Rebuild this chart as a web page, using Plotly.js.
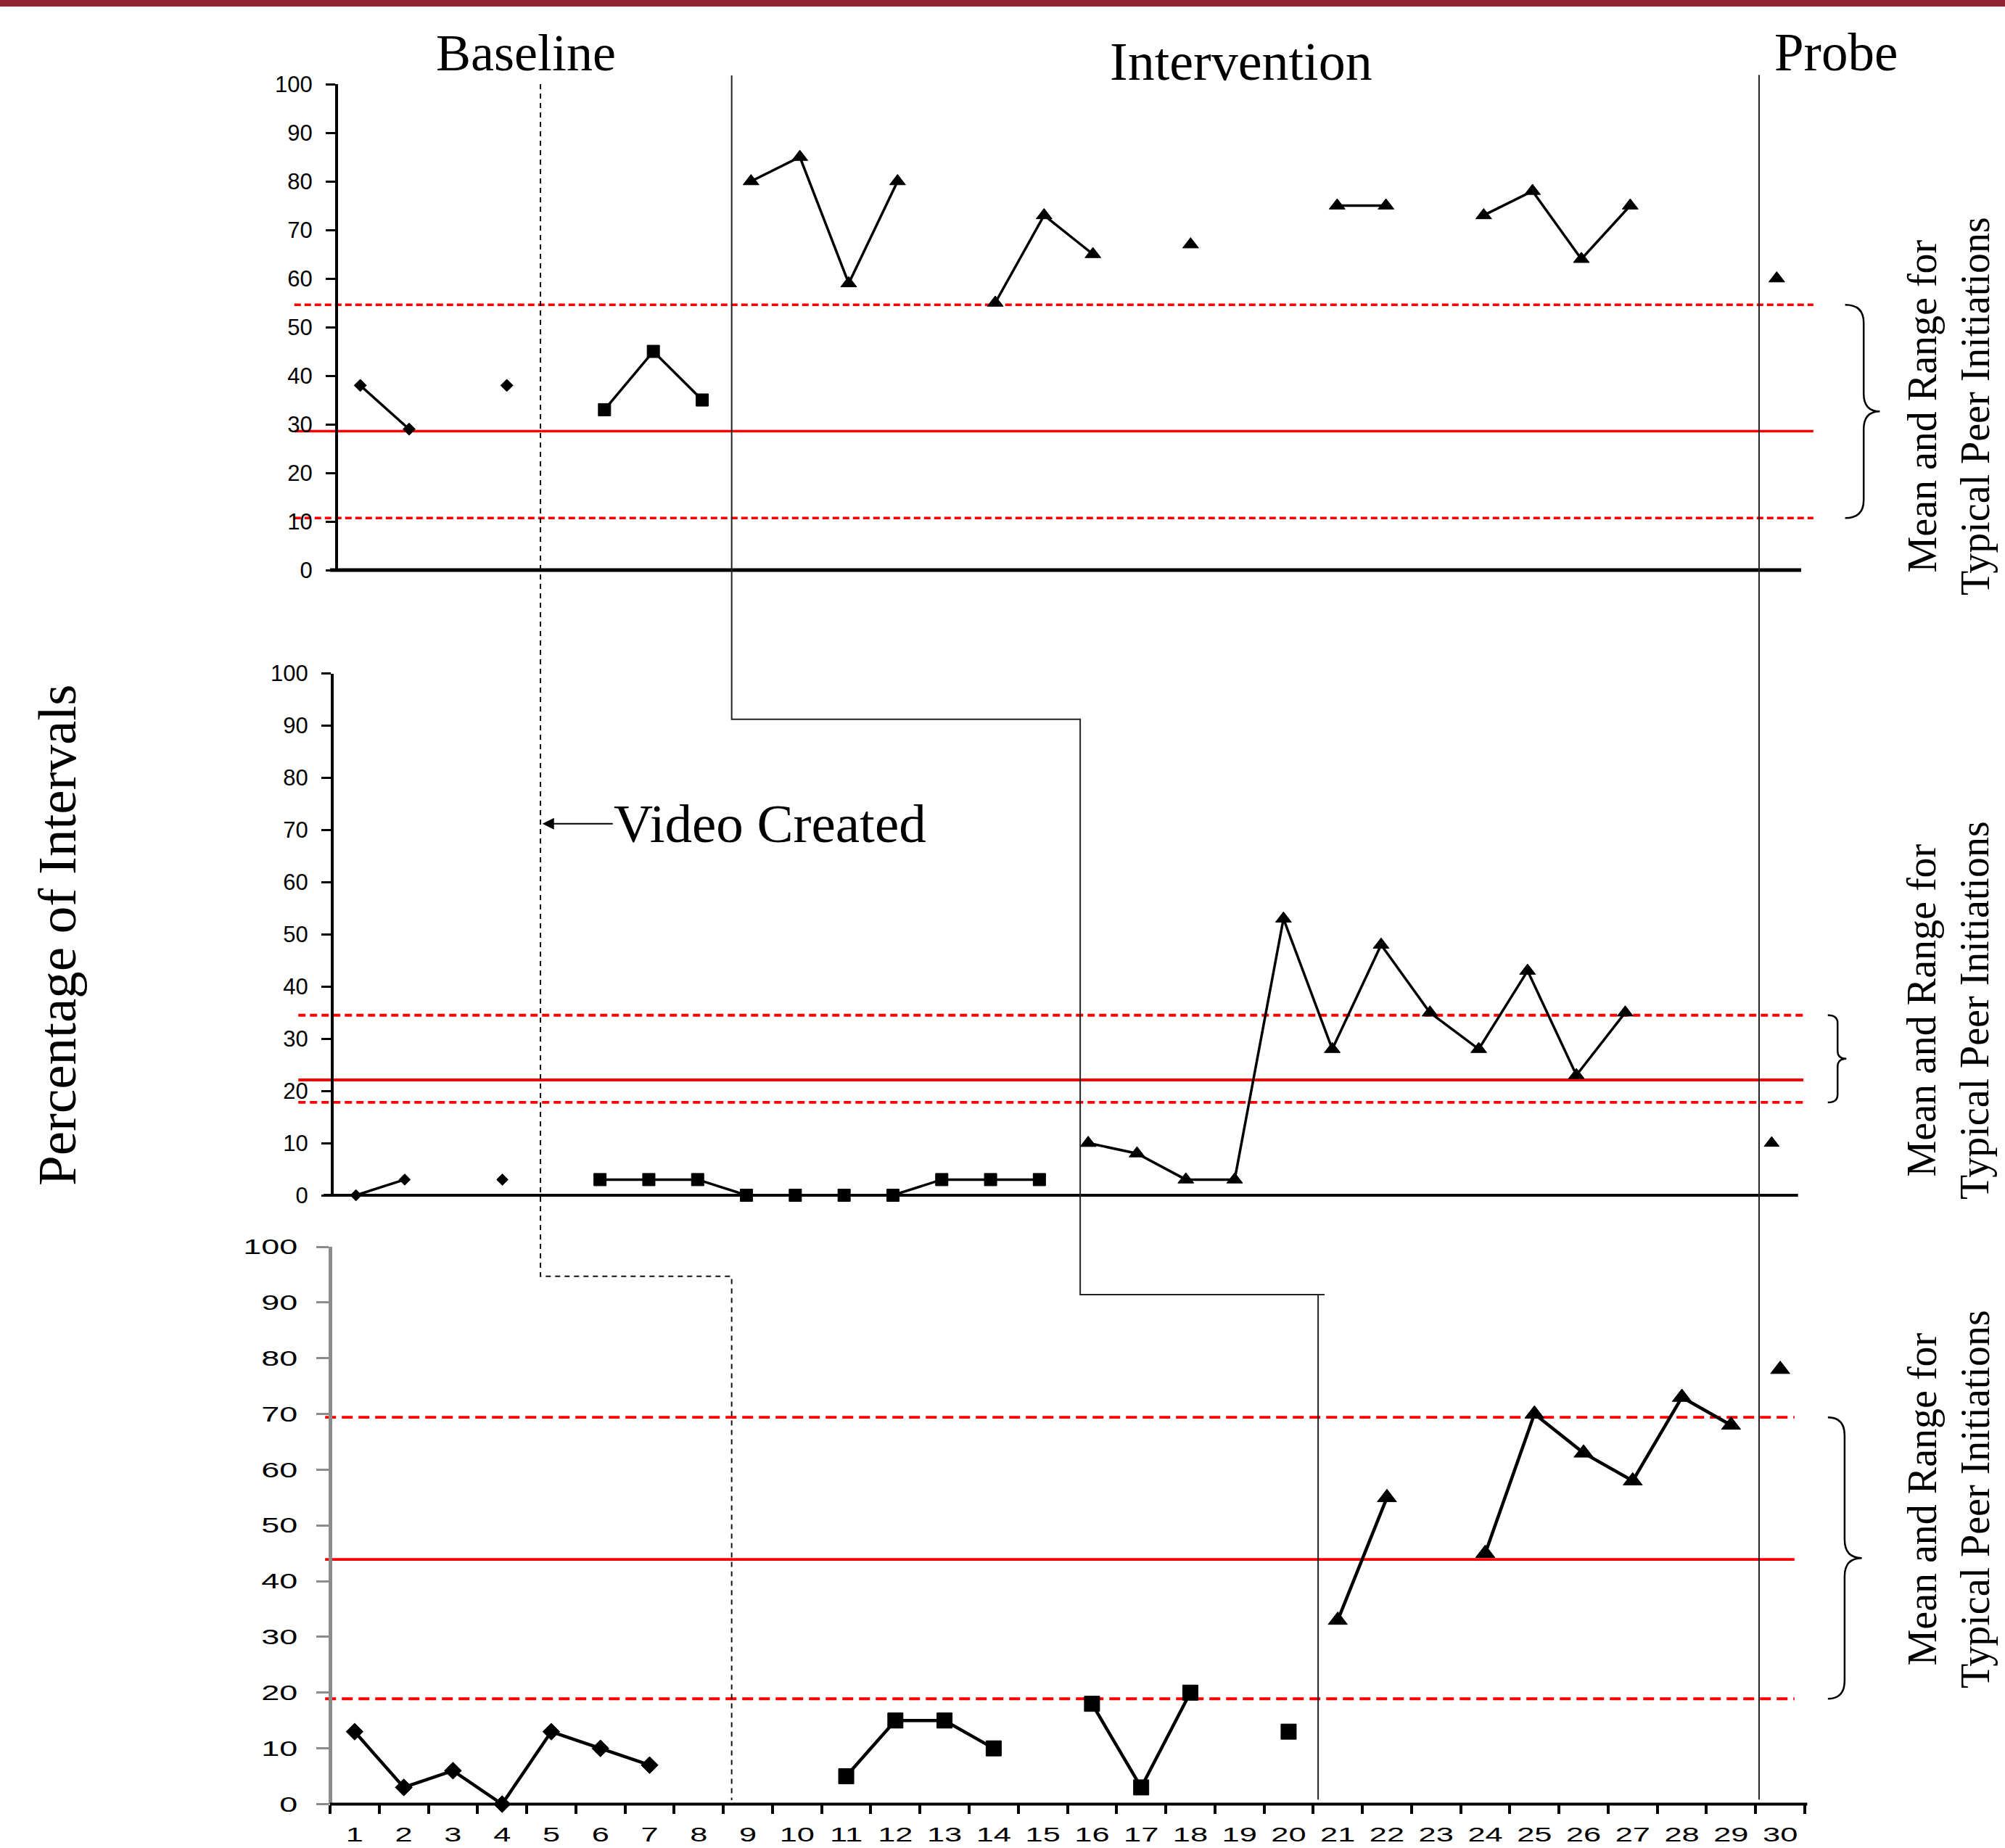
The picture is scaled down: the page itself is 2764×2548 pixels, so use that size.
<!DOCTYPE html>
<html>
<head>
<meta charset="utf-8">
<script src="https://cdn.plot.ly/plotly-3.0.1.min.js"></script>
<style>
html,body{margin:0;padding:0;background:#fff;}
#chart{width:2764px;height:2548px;}
</style>
</head>
<body>
<div id="chart"></div>
<script>
// ---------------- DATA ----------------
const sessions = [1,2,3,4,5,6,7,8,9,10,11,12,13,14,15,16,17,18,19,20,21,22,23,24,25,26,27,28,29,30];
const tickLabels = sessions.map(String);
const yTicks = [0,10,20,30,40,50,60,70,80,90,100];
const N = null;

// Panel 1 (top)
const p1Diamond  = [38,29,N,38,N,N,N,N,N,N, N,N,N,N,N,N,N,N,N,N, N,N,N,N,N,N,N,N,N,N];
const p1Square   = [N,N,N,N,N,33,45,35,N,N, N,N,N,N,N,N,N,N,N,N, N,N,N,N,N,N,N,N,N,N];
const p1Triangle = [N,N,N,N,N,N,N,N,80,85, 59,80,N,55,73,65,N,67,N,N, 75,75,N,73,78,64,75,N,N,N];
const p1Probe    = [N,N,N,N,N,N,N,N,N,N, N,N,N,N,N,N,N,N,N,N, N,N,N,N,N,N,N,N,N,60];
const p1Mean = 28.6, p1Upper = 54.6, p1Lower = 10.7;

// Panel 2 (middle)
const p2Diamond  = [0,3,N,3,N,N,N,N,N,N, N,N,N,N,N,N,N,N,N,N, N,N,N,N,N,N,N,N,N,N];
const p2Square   = [N,N,N,N,N,3,3,3,0,0, 0,0,3,3,3,N,N,N,N,N, N,N,N,N,N,N,N,N,N,N];
const p2Triangle = [N,N,N,N,N,N,N,N,N,N, N,N,N,N,N,10,8,3,3,53, 28,48,35,28,43,23,35,N,N,N];
const p2Probe    = [N,N,N,N,N,N,N,N,N,N, N,N,N,N,N,N,N,N,N,N, N,N,N,N,N,N,N,N,N,10];
const p2Mean = 22.1, p2Upper = 34.5, p2Lower = 17.8;

// Panel 3 (bottom)
const p3Diamond  = [13,3,6,0,13,10,7,N,N,N, N,N,N,N,N,N,N,N,N,N, N,N,N,N,N,N,N,N,N,N];
const p3Square   = [N,N,N,N,N,N,N,N,N,N, 5,15,15,10,N,18,3,20,N,13, N,N,N,N,N,N,N,N,N,N];
const p3Triangle = [N,N,N,N,N,N,N,N,N,N, N,N,N,N,N,N,N,N,N,N, 33,55,N,45,70,63,58,73,68,N];
const p3Probe    = [N,N,N,N,N,N,N,N,N,N, N,N,N,N,N,N,N,N,N,N, N,N,N,N,N,N,N,N,N,78];
const p3Mean = 43.9, p3Upper = 69.4, p3Lower = 18.9;

// Phase-change positions (session units)
const videoLine = 4.78;
const phase1 = 8.67;
const phase2 = 15.76;
const phase3 = 20.6;
const probeLine = 29.57;

// ---------------- LAYOUT GEOMETRY ----------------
const W = 2764, H = 2548;
const geo = {
  p1: {L: 463, R: 2483, top: 116,   bot: 786},
  p2: {L: 457, R: 2476, top: 928.5, bot: 1648},
  p3: {L: 455, R: 2488, top: 1719,  bot: 2487.5}
};
function xRange(g){ const s = (g.R - g.L) / 30; return [0.5 - g.L / s, 30.5 + (W - g.R) / s]; }
function yDomain(g){ return [1 - g.bot / H, 1 - g.top / H]; }
function yP(g, v){ return 1 - (g.bot - (g.bot - g.top) * v / 100) / H; }
function pp(px){ return 1 - px / H; }

const sans = 'Liberation Sans, Arial, sans-serif';
const serif = 'Liberation Serif, Times New Roman, serif';

function series(xa, ya, vals, symbol, size, lw){
  return {type:'scatter', mode:'lines+markers', x: sessions, y: vals, xaxis: xa, yaxis: ya,
    line:{color:'black', width: lw},
    marker:{symbol: symbol, size: size, color:'black', line:{color:'black', width:1}},
    connectgaps:false, cliponaxis:false, hoverinfo:'skip', showlegend:false};
}

const traces = [
  series('x','y', p1Diamond,'diamond',13,3.5),
  series('x','y', p1Square,'square',17,3.5),
  series('x','y', p1Triangle,'triangle-up',19,3.5),
  series('x','y', p1Probe,'triangle-up',19,3.5),
  series('x2','y2', p2Diamond,'diamond',12,3.5),
  series('x2','y2', p2Square,'square',17,3.5),
  series('x2','y2', p2Triangle,'triangle-up',19,3.5),
  series('x2','y2', p2Probe,'triangle-up',18,3.5),
  series('x3','y3', p3Diamond,'diamond',18,4.5),
  series('x3','y3', p3Square,'square',21,4.5),
  series('x3','y3', p3Triangle,'triangle-up',23,4.5),
  series('x3','y3', p3Probe,'triangle-up',23,4.5)
];

function yAxis(g, opts){
  return Object.assign({
    domain: yDomain(g), range:[0,100], anchor:'free', position: g.L / W,
    showline:true, linecolor:'black', linewidth:3.5, mirror:false,
    ticks:'outside', ticklen:13, tickwidth:3, tickcolor:'black',
    tickmode:'array', tickvals: yTicks,
    tickfont:{family: sans, size: 31, color:'black'},
    showgrid:false, zeroline:false, fixedrange:true, ticklabelstandoff: 12
  }, opts || {});
}
function xAxisHidden(g, anchor){
  return {domain:[0,1], range: xRange(g), anchor: anchor, visible:false, showgrid:false, zeroline:false, fixedrange:true};
}

const layout = {
  width: W, height: H,
  margin:{l:0, r:0, t:0, b:0, pad:0},
  paper_bgcolor:'white', plot_bgcolor:'rgba(0,0,0,0)',
  showlegend:false,
  xaxis:  xAxisHidden(geo.p1, 'y'),
  xaxis2: xAxisHidden(geo.p2, 'y2'),
  xaxis3: {
    domain:[0,1], range: xRange(geo.p3), anchor:'y3',
    showline:false, showgrid:false, zeroline:false, fixedrange:true,
    tickmode:'array', tickvals: sessions, ticktext: tickLabels, ticks:'',
    tickfont:{family: sans, size: 28, color:'black'}, ticklabelstandoff: 22,
    minor:{tickmode:'array', tickvals: sessions.map(s => s - 0.5).concat([30.5]),
           ticks:'outside', ticklen:12, tickwidth:4, tickcolor:'black', showgrid:false}
  },
  yaxis:  yAxis(geo.p1),
  yaxis2: yAxis(geo.p2),
  yaxis3: yAxis(geo.p3, {linecolor:'#8c8c8c', linewidth:4.5, tickcolor:'#8c8c8c', ticklen:17,
                         tickfont:{family: sans, size: 29, color:'black'}, ticklabelstandoff: 20}),
  shapes: [],
  annotations: []
};

// top maroon band
layout.shapes.push({type:'rect', xref:'paper', yref:'paper', x0:0, x1:1, y0: pp(9), y1:1,
  fillcolor:'#8f2333', line:{width:0}, layer:'above'});

// mean / range reference lines
function refLines(xa, ya, x0, x1, mean, up, lo, w, dash){
  [[up, dash], [mean, 'solid'], [lo, dash]].forEach(([v, d]) => {
    layout.shapes.push({type:'line', xref: xa, yref: ya, x0: x0, x1: x1, y0: v, y1: v,
      line:{color:'#ff0000', width: w, dash: d}, layer:'below'});
  });
}
refLines('x','y', -0.35, 30.75, p1Mean, p1Upper, p1Lower, 3.5, '9px,5px');
refLines('x2','y2', -0.18, 30.65, p2Mean, p2Upper, p2Lower, 3.8, '10px,6px');
refLines('x3','y3', 0.4, 30.29, p3Mean, p3Upper, p3Lower, 3.8, '15px,8px');

// x-axis baselines
function xLine(xa, g, x0, x1, w){
  layout.shapes.push({type:'line', xref: xa, yref:'paper', x0:x0, x1:x1, y0: yP(g,0), y1: yP(g,0),
    line:{color:'black', width:w}, layer:'above'});
}
xLine('x', geo.p1, 0.38, 30.5, 5);
xLine('x2', geo.p2, 0.34, 30.54, 4);
xLine('x3', geo.p3, 0.5, 30.55, 4);

// phase-change lines (in bottom-panel session units)
const g1 = geo.p1, g2 = geo.p2, g3 = geo.p3;
layout.shapes.push({type:'path', xref:'x3', yref:'paper',
  path: `M${videoLine},${yP(g1,100)} L${videoLine},${yP(g3,94.7)} L${phase1},${yP(g3,94.7)} L${phase1},${yP(g3,0.7)}`,
  line:{color:'#111', width:2, dash:'7px,6px'}, layer:'above'});
layout.shapes.push({type:'path', xref:'x3', yref:'paper',
  path: `M${phase1},${yP(g1,101.8)} L${phase1},${yP(g2,91.2)} L${phase2},${yP(g2,91.2)} L${phase2},${yP(g3,91.4)} L${phase3+0.13},${yP(g3,91.4)} M${phase3},${yP(g3,91.4)} L${phase3},${yP(g3,0.8)}`,
  line:{color:'#222', width:2}, layer:'above'});
layout.shapes.push({type:'path', xref:'x3', yref:'paper',
  path: `M${probeLine},${yP(g1,101.9)} L${probeLine},${yP(g3,0.8)}`,
  line:{color:'#222', width:2}, layer:'above'});

// curly braces marking the typical-peer range
function brace(xa, ya, x0, xm, x1, top, bot, r){
  const mid = (top + bot) / 2;
  const p = `M${x0},${top} Q${xm},${top} ${xm},${top - r} L${xm},${mid + r} Q${xm},${mid} ${x1},${mid} ` +
            `Q${xm},${mid} ${xm},${mid - r} L${xm},${bot + r} Q${xm},${bot} ${x0},${bot}`;
  layout.shapes.push({type:'path', xref: xa, yref: ya, path: p, line:{color:'black', width:2.5}, layer:'above'});
}
brace('x','y', 31.40, 31.78, 32.11, p1Upper, p1Lower, 3.7);
brace('x2','y2', 31.15, 31.35, 31.53, p2Upper, p2Lower, 1.5);
brace('x3','y3', 30.97, 31.31, 31.66, p3Upper, p3Lower, 3.3);

// text labels
function ann(text, xpx, ypx, size, angle){
  layout.annotations.push({text: text, xref:'paper', yref:'paper', x: xpx / W, y: pp(ypx),
    xanchor:'center', yanchor:'middle', showarrow:false, textangle: angle || 0, align:'center',
    font:{family: serif, size: size, color:'black'}});
}
ann('Baseline', 725, 73, 72);
ann('Intervention', 1711, 85, 74);
ann('Probe', 2531, 73, 73);
ann('Percentage of Intervals', 78, 1290, 75, -90);
ann('Mean and Range for<br>Typical Peer Initiations', 2686, 560, 56, -90);
ann('Mean and Range for<br>Typical Peer Initiations', 2686, 1393, 56, -90);
ann('Mean and Range for<br>Typical Peer Initiations', 2686, 2067, 56, -90);

// "Video Created" with arrow pointing at the dashed line
layout.annotations.push({text:'Video Created', xref:'x2', yref:'y2', x: videoLine + 0.04, y: 71.2,
  axref:'pixel', ayref:'pixel', ax: 314, ay: 0, showarrow:true, arrowhead:2, arrowsize:1.6, arrowwidth:2,
  arrowcolor:'black', standoff:0, xanchor:'center', yanchor:'middle',
  font:{family: serif, size: 75, color:'black'}});

Plotly.newPlot('chart', traces, layout, {staticPlot:true, displayModeBar:false}).then(function(gd){
  // bottom panel of the original is horizontally stretched: widen its tick labels
  const stretch = 1.55;
  gd.querySelectorAll('.x3tick text, .y3tick text').forEach(function(t){
    const w = t.getComputedTextLength();
    if (w > 0) {
      t.setAttribute('textLength', (w * stretch).toFixed(1));
      t.setAttribute('lengthAdjust', 'spacingAndGlyphs');
    }
  });
});
</script>
</body>
</html>
